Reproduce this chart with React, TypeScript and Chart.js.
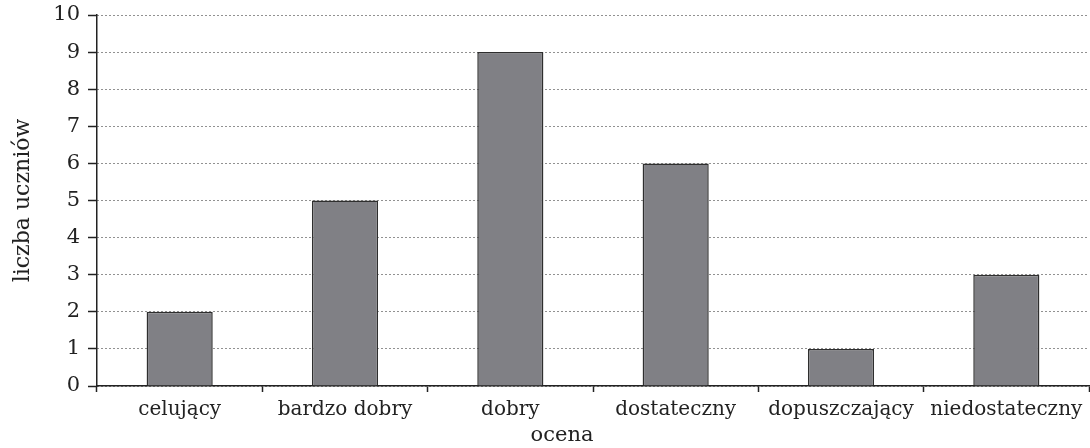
import React, { useEffect, useRef } from "react";
import { Chart, registerables } from "chart.js";

Chart.register(...registerables);

const categories = ["celujący", "bardzo dobry", "dobry", "dostateczny", "dopuszczający", "niedostateczny"];
const counts = [2, 5, 9, 6, 1, 3];
const yTitle = "liczba uczniów";
const xTitle = "ocena";

const FONT = "'DejaVu Serif', serif";

const xTitlePlugin = {
  id: "xTitleText",
  afterDraw(chart: any) {
    const ctx = chart.ctx;
    ctx.save();
    ctx.font = `21px ${FONT}`;
    ctx.fillStyle = "#222";
    ctx.textAlign = "center";
    ctx.textBaseline = "middle";
    ctx.fillText(xTitle, 562, 436);
    ctx.restore();
  },
};

export default function App() {
  const ref = useRef<HTMLCanvasElement | null>(null);
  useEffect(() => {
    if (!ref.current) return;
    const chart = new Chart(ref.current, {
      type: "bar",
      data: {
        labels: categories,
        datasets: [
          {
            data: counts,
            backgroundColor: "#808085",
            borderColor: "#2e2e2e",
            borderWidth: 1.5,
            categoryPercentage: 1,
            barPercentage: 0.4,
          },
        ],
      },
      plugins: [xTitlePlugin],
      options: {
        animation: false,
        responsive: true,
        maintainAspectRatio: false,
        layout: { padding: { top: 15, right: 1, left: 0, bottom: 0 } },
        plugins: { legend: { display: false }, tooltip: { enabled: false } },
        scales: {
          x: {
            grid: {
              offset: true,
              drawOnChartArea: false,
              drawTicks: true,
              tickLength: 6,
              tickColor: "#222",
              tickWidth: 1.5,
            },
            border: { color: "#222", width: 1.5 },
            ticks: { color: "#222", font: { family: FONT, size: 20 }, padding: 6 },
            title: { display: false, text: xTitle },
            afterFit: (s: any) => {
              s.height = 62;
              s.paddingLeft = 0;
              s.paddingRight = 0;
            },
          },
          y: {
            min: 0,
            max: 10,
            ticks: { stepSize: 1, color: "#222", font: { family: FONT, size: 21 }, padding: 8 },
            grid: {
              color: "#222",
              lineWidth: 1,
              drawTicks: true,
              tickLength: 9,
              tickColor: "#222",
              tickWidth: 1.5,
            },
            border: { color: "#222", width: 1.5, dash: [1, 3] },
            title: { display: true, text: yTitle, color: "#222", font: { family: FONT, size: 22 }, padding: { top: 10, bottom: 0 } },
            afterFit: (s: any) => {
              s.width = 97;
              s.paddingTop = 0;
              s.paddingBottom = 0;
            },
          },
        },
      },
    });
    return () => chart.destroy();
  }, []);
  return (
    <div style={{ position: "fixed", left: 0, top: 0, width: 1090, height: 448, background: "#fff" }}>
      <canvas ref={ref} />
    </div>
  );
}
